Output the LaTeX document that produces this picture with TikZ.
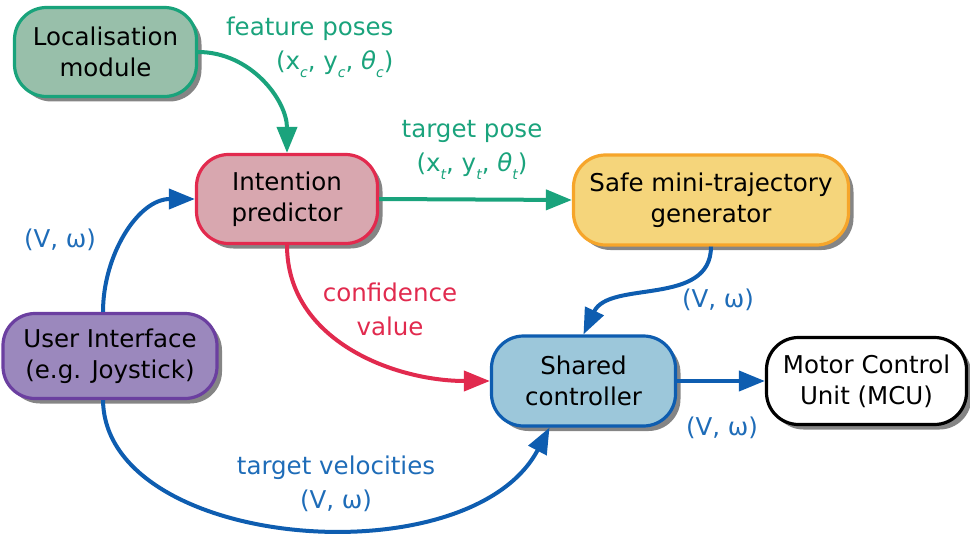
\documentclass[tikz,border=0pt]{standalone}
\usepackage{fontspec}
\setmainfont{DejaVu Sans}
\usetikzlibrary{arrows.meta,shadows}
\definecolor{locfill}{HTML}{98BFAA}
\definecolor{locdraw}{HTML}{19A37B}
\definecolor{intfill}{HTML}{D8A7AF}
\definecolor{intdraw}{HTML}{E22A4E}
\definecolor{safefill}{HTML}{F5D57B}
\definecolor{safedraw}{HTML}{F6A52A}
\definecolor{uifill}{HTML}{9B88BD}
\definecolor{uidraw}{HTML}{6B3FA0}
\definecolor{shfill}{HTML}{9CC7DA}
\definecolor{bluec}{HTML}{0E5DB0}
\definecolor{bluetext}{HTML}{1E6CB8}
\definecolor{greenc}{HTML}{1AA37C}
\definecolor{redc}{HTML}{E12A4E}
\definecolor{shadowgray}{HTML}{858585}
\newcommand\mysub[1]{\raisebox{-8pt}{\fontsize{14}{14}\selectfont\itshape #1}}
\begin{document}
\begin{tikzpicture}[x=1pt,y=-1pt,
  font=\fontsize{24.5}{31}\selectfont,
  box/.style={rounded corners=32pt, line width=3.2pt, align=center, inner sep=0pt,
    drop shadow={shadow xshift=5pt, shadow yshift=-5pt, fill=shadowgray, opacity=1}},
  conn/.style={line width=4pt, -{Triangle[length=26pt,width=20pt]}},
  lbl/.style={align=center, font=\fontsize{24.5}{34}\selectfont}]
\useasboundingbox (0,0) rectangle (970,535);

\node[box, fill=locfill, draw=locdraw, minimum width=182pt, minimum height=89pt] (loc) at (105.5,52) {Localisation\\module};
\node[box, fill=intfill, draw=intdraw, minimum width=181pt, minimum height=89pt] (int) at (287,199) {Intention\\predictor};
\node[box, fill=safefill, draw=safedraw, minimum width=275pt, minimum height=90pt] (safe) at (711,200) {Safe mini-trajectory\\generator};
\node[box, fill=uifill, draw=uidraw, minimum width=214pt, minimum height=85pt] (ui) at (110,356) {User Interface\\(e.g. Joystick)};
\node[box, fill=shfill, draw=bluec, minimum width=184pt, minimum height=90pt] (sh) at (583.5,381) {Shared\\controller};
\node[box, fill=white, draw=black, minimum width=200pt, minimum height=87pt] (mcu) at (866.5,381) {Motor Control\\Unit (MCU)};

\draw[conn, greenc] (loc.east) to[out=0, in=90] (int.north);
\draw[conn, greenc] (int.east) -- (safe.west);
\draw[conn, bluec] (safe.south) to[out=-90, in=65] (sh.north);
\draw[conn, redc] (int.south) to[out=-90, in=180] (sh.west);
\draw[conn, bluec] ([xshift=-7pt]ui.north) to[out=90, in=180] (int.west);
\draw[conn, bluec] (sh.east) -- (mcu.west);
\draw[conn, bluec] ([xshift=-7pt]ui.south) .. controls +(2,150) and +(-80,152) .. ([xshift=-34pt]sh.south);

\node[lbl, greenc, align=right, anchor=east] (l1) at (397,47) {feature poses\\(x\mysub{c}, y\mysub{c}, \textit{θ}\mysub{c})};
\node[lbl, greenc] (l2) at (472,150) {target pose\\(x\mysub{t}, y\mysub{t}, \textit{θ}\mysub{t})};
\node[lbl, bluetext] (l3) at (718,300) {(V, ω)};
\node[lbl, redc] (l4) at (390,309) {confidence\\value};
\node[lbl, bluetext] (l5) at (60,240) {(V, ω)};
\node[lbl, bluetext] (l6) at (722,428) {(V, ω)};
\node[lbl, bluetext] (l7) at (336,484) {target velocities\\(V, ω)};
\end{tikzpicture}
\end{document}
